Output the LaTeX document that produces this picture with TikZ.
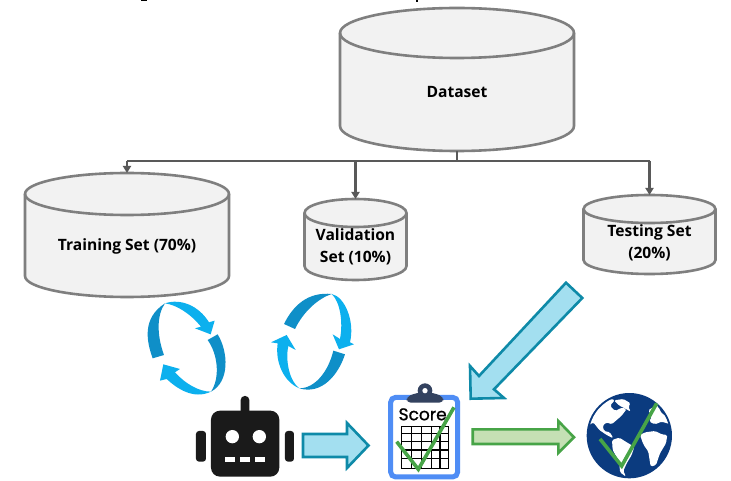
\documentclass[tikz,border=0pt]{standalone}
\usepackage{fontspec}
\setmainfont{Open Sans}
\newfontfamily\scorefont[FakeBold=1]{Poppins}
\definecolor{cylfill}{HTML}{F2F2F2}
\definecolor{cylline}{HTML}{7F7F7F}
\definecolor{conn}{HTML}{595959}
\definecolor{ringdark}{HTML}{0F8FC8}
\definecolor{ringlight}{HTML}{0CB0EE}
\definecolor{arrowline}{HTML}{0E8AA8}
\definecolor{arrowfill}{HTML}{A3DFF0}
\definecolor{greenline}{HTML}{47A447}
\definecolor{greenfill}{HTML}{C5E0B4}
\definecolor{robot}{HTML}{1A1A1A}
\definecolor{clipblue}{HTML}{4F8DF5}
\definecolor{clipnavy}{HTML}{33425F}
\definecolor{globenavy}{HTML}{0B3B7F}
\usetikzlibrary{arrows.meta}
\tikzset{
  x=1pt,y=-1pt,
  cylshape/.style={draw=cylline,fill=cylfill,line width=2.6pt},
  cyllabel/.style={inner sep=0pt,align=center,font=\fontsize{15.6}{22}\selectfont\bfseries,text=black},
  connline/.style={draw=conn,line width=2.8pt},
  connhead/.style={connline,-{Triangle[length=7pt,width=8pt]}},
  bigarrow/.style={draw=arrowline,fill=arrowfill,line width=2.6pt,line join=miter},
  greenarrow/.style={draw=greenline,fill=greenfill,line width=2.6pt,line join=miter},
  checkmark/.style={draw=greenline,line width=3.6pt,line join=miter},
  robotpart/.style={fill=robot,draw=none},
}
% cx, top, bottom, rx, ry, name, text, text y
\newcommand{\cylinderbox}[8]{%
  \path[cylshape] (#1-#4,#2+#5) arc[start angle=180,end angle=360,x radius=#4,y radius=#5]
    -- (#1+#4,#3-#5) arc[start angle=0,end angle=180,x radius=#4,y radius=#5] -- cycle;
  \draw[cylshape,fill=none] (#1-#4,#2+#5) arc[start angle=180,end angle=0,x radius=#4,y radius=#5];
  \path (#1,#2) coordinate (#6top) (#1,#3) coordinate (#6bot);
  \node[cyllabel] (#6) at (#1,#8) {#7};
}
\begin{document}
\begin{tikzpicture}
\useasboundingbox (0,0) rectangle (731,481);
\fill[white] (0,0) rectangle (731,481);
% clipped title remnants
\fill[black] (141,0) rectangle (147,1.2);
\fill[black] (416,0) rectangle (418,2.4);

% connectors
\coordinate (junction) at (457,161);
\coordinate (jleft) at (127,161);
\coordinate (jval) at (355.5,161);
\coordinate (jright) at (649.5,161);

\cylinderbox{457}{8}{151}{117}{25}{dataset}{Dataset}{92}
\cylinderbox{127}{173}{297}{102}{21}{training}{Training Set (70\%)}{246}
\cylinderbox{355.5}{199}{280}{51}{14}{validation}{Validation\\Set (10\%)}{246.5}
\cylinderbox{649.5}{195}{274}{66}{14}{testing}{Testing Set\\(20\%)}{243}

\draw[connline] (datasetbot) -- (junction);
\draw[connline] (jleft) -- (jright);
\draw[connhead] (jleft) -- (trainingtop);
\draw[connhead] (jval) -- (validationtop);
\draw[connhead] (jright) -- (testingtop);

% left ring
\begin{scope}[shift={(140,285)},x=0.3333pt,y=-0.3333pt]
\fill[ringdark] (38,220) .. controls (20,170) and (5,100) .. (75,55) .. controls (50,90) and (50,150) .. (72,210) -- cycle;
\fill[ringlight] (75,55) .. controls (120,40) and (175,60) .. (207,112) -- (224,107) -- (212,148) -- (165,130) -- (183,125) .. controls (150,85) and (110,60) .. (75,55) -- cycle;
\fill[ringdark] (203,165) -- (233,148) .. controls (265,200) and (270,290) .. (213,320) .. controls (240,280) and (235,210) .. (203,165) -- cycle;
\fill[ringlight] (213,320) .. controls (160,345) and (110,310) .. (80,282) -- (60,287) -- (70,238) -- (120,252) -- (105,262) .. controls (135,295) and (175,320) .. (213,320) -- cycle;
\end{scope}
% right ring
\begin{scope}[shift={(265,285)},x=0.3333pt,y=-0.3333pt]
\fill[ringdark] (57,117) .. controls (85,60) and (130,20) .. (200,27) .. controls (160,40) and (115,80) .. (90,132) -- cycle;
\fill[ringlight] (200,27) .. controls (240,35) and (270,110) .. (255,172) -- (267,178) -- (222,193) -- (203,148) -- (225,162) .. controls (235,110) and (225,50) .. (200,27) -- cycle;
\fill[ringdark] (205,197) -- (240,208) .. controls (220,270) and (170,330) .. (103,310) .. controls (150,310) and (190,260) .. (205,197) -- cycle;
\fill[ringlight] (103,310) .. controls (55,290) and (30,230) .. (38,175) -- (18,172) -- (65,150) -- (92,195) -- (70,183) .. controls (60,230) and (75,290) .. (103,310) -- cycle;
\end{scope}

% robot
\begin{scope}[shift={(130,280)},x=0.3333pt,y=-0.3333pt]
\fill[robotpart,rounded corners=9pt] (243,392) rectangle (448,590);
\fill[robotpart,rounded corners=4pt] (332,348) rectangle (358,410);
\fill[robotpart,rounded corners=3pt] (198,453) rectangle (228,545);
\fill[robotpart,rounded corners=3pt] (465,453) rectangle (492,545);
\fill[white] (307,470) circle[radius=20];
\fill[white] (388,470) circle[radius=20];
\fill[white] (286,530) rectangle (316,546);
\fill[white] (330,530) rectangle (360,546);
\fill[white] (374,530) rectangle (404,546);
\end{scope}

% blue arrow robot -> score
\path[bigarrow] (303,434) -- (347,434) -- (347,423) -- (368.5,445.5) -- (347,468) -- (347,457) -- (303,457) -- cycle;
% diagonal arrow
\path[bigarrow] (566,282.7) -- (582.3,298) -- (494,389.3) -- (504,398) -- (470.7,398.7) -- (470,366) -- (479,376) -- cycle;
% green arrow
\path[greenarrow] (472.7,429.3) -- (558.3,429.3) -- (558.3,421) -- (574,437.3) -- (558.3,453) -- (558.3,444) -- (472.7,444) -- cycle;

% clipboard
\begin{scope}[shift={(380,380)},x=0.3333pt,y=-0.3333pt]
\draw[draw=clipblue,fill=white,line width=5pt,rounded corners=5pt] (32,52) rectangle (233,291);
\fill[clipnavy,rounded corners=4pt] (80,68) -- (80,50) -- (112,38) -- (158,38) -- (190,50) -- (190,68) -- cycle;
\fill[clipnavy] (135,32) circle[radius=22];
\fill[white] (135,32) circle[radius=8];
\draw[black,line width=1.2pt] (65,140) rectangle (205,265);
\foreach \gx in {95,125,155,180} \draw[black,line width=1.2pt] (\gx,140) -- (\gx,265);
\foreach \gy in {160,185,210,235} \draw[black,line width=1.2pt] (65,\gy) -- (205,\gy);
\node[inner sep=0pt,text=black,font=\scorefont\fontsize{17}{17}\selectfont] (score) at (128,103) {Score};
\draw[checkmark] (50,185) -- (115,268) -- (222,82);
\end{scope}

% globe
\begin{scope}[shift={(580,385)},x=0.3333pt,y=-0.3333pt]
\fill[globenavy] (148,152) circle[radius=128];
\begin{scope}
\clip (148,152) circle[radius=122];
% north america
\fill[white,rounded corners=1.5pt] (20,125) -- (32,92) -- (60,60) -- (92,42) -- (105,45) -- (90,62) -- (105,78) -- (125,68) -- (140,72) -- (125,92) -- (95,118) -- (80,112) -- (68,122) -- (72,138) -- (90,142) -- (100,160) -- (80,150) -- (58,135) -- (40,112) -- cycle;
% arctic islands
\fill[white,rounded corners=1.5pt] (102,46) -- (130,42) -- (152,55) -- (145,65) -- (152,80) -- (138,72) -- (118,62) -- cycle;
% south america
\fill[white,rounded corners=1.5pt] (96,165) -- (118,158) -- (145,175) -- (163,185) -- (155,210) -- (140,235) -- (130,258) -- (138,275) -- (120,262) -- (118,230) -- (98,195) -- cycle;
% europe
\fill[white,rounded corners=1.5pt] (205,75) -- (232,60) -- (245,85) -- (270,100) -- (272,118) -- (245,110) -- (225,118) -- (208,110) -- (215,95) -- cycle;
% africa
\fill[white,rounded corners=1.5pt] (180,150) -- (195,142) -- (225,138) -- (245,148) -- (262,150) -- (258,175) -- (240,205) -- (228,240) -- (212,245) -- (205,200) -- (190,178) -- cycle;
\end{scope}
\draw[checkmark] (60,162) -- (125,243) -- (230,55);
\end{scope}
\end{tikzpicture}
\end{document}
